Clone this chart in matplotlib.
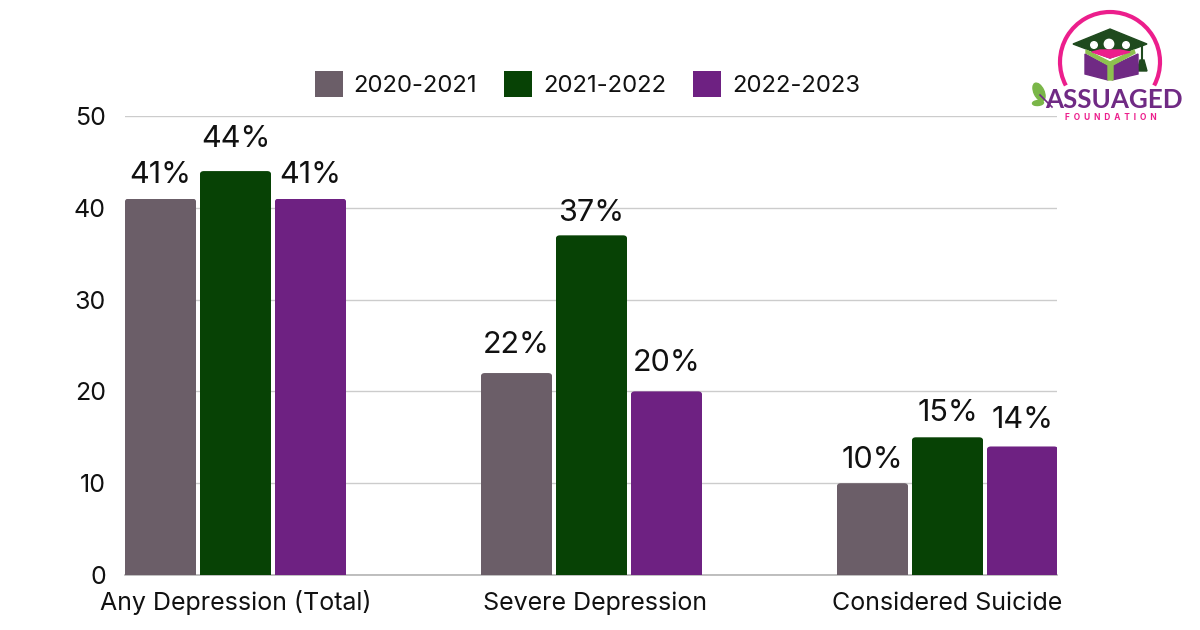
import matplotlib
matplotlib.use("Agg")
import matplotlib.pyplot as plt
import numpy as np
from matplotlib.patches import FancyBboxPatch, Polygon, Arc, Circle, Ellipse
from matplotlib.transforms import ScaledTranslation

plt.rcParams['font.family'] = ['Inter', 'DejaVu Sans']

categories = ["Any Depression (Total)", "Severe Depression", "Considered Suicide"]
series_names = ["2020-2021", "2021-2022", "2022-2023"]
v2020 = [41, 22, 10]
v2021 = [44, 37, 15]
v2022 = [41, 20, 14]
colors = ["#6B5E68", "#074205", "#6E2182"]
yticks = [0, 10, 20, 30, 40, 50]
# label offset above each bar top (pixels), per series
label_gap = [[24, 28, 23], [32, 22, 24], [24, 28, 26]]

W, H = 1200, 630
fig = plt.figure(figsize=(W/100, H/100), dpi=100, facecolor="white")
L, R, T, B = 125, 1057, 116, 575
ax = fig.add_axes([L/W, 1-B/H, (R-L)/W, (B-T)/H])

pitch = 356.0
bw = 71.5/pitch
step = 75/pitch
ax.set_xlim((L-235.5)/pitch, 2+(R-947.5)/pitch)
ax.set_ylim(0, 50)
x = np.arange(len(categories))
xpx = (R-L)/(ax.get_xlim()[1]-ax.get_xlim()[0])
ypx = (B-T)/50
handles = []
for i, (vals, c, n) in enumerate(zip([v2020, v2021, v2022], colors, series_names)):
    bars = ax.bar(x+(i-1)*step, vals, bw, color=c, label=n, zorder=3)
    for b, v, g in zip(bars, vals, label_gap[i]):
        clip = FancyBboxPatch((b.get_x(), -5), b.get_width(), b.get_height()+5,
                              boxstyle=f"round,pad=0,rounding_size={4/xpx}",
                              mutation_aspect=xpx/ypx, transform=ax.transData)
        b.set_clip_path(clip)
        ax.annotate(f"{v}%", xy=(b.get_x()+b.get_width()/2, v), xytext=(0, g*0.72),
                    textcoords="offset points", ha='center', va='center', fontsize=22,
                    color="#111111", zorder=4, annotation_clip=False)
    handles.append(bars)

ax.set_yticks(yticks)
ax.set_xticks(x, categories)
ax.tick_params(axis='both', length=0, labelsize=18, labelcolor="#111111")
ax.tick_params(axis='y', pad=13.7)
ax.tick_params(axis='x', pad=25)
for lab, dx in zip(ax.get_xticklabels(), [0.5, 3.5, 0]):
    lab.set_va('baseline')
    lab.set_transform(lab.get_transform() + ScaledTranslation(dx/100, 0, fig.dpi_scale_trans))
ax.grid(axis='y', color="#CCCCCC", linewidth=1, zorder=0)
ax.set_axisbelow(True)
for s in ['top', 'right', 'left']:
    ax.spines[s].set_visible(False)
ax.spines['bottom'].set_color("#B4B4B4")
ax.spines['bottom'].set_linewidth(1.2)

leg = fig.legend(handles=[h[0] for h in handles], labels=series_names, ncol=3, frameon=False,
                 loc='center', bbox_to_anchor=(587.5/W, 1-84/H), fontsize=17.2,
                 handlelength=1.17, handleheight=1.34, handletextpad=0.46, columnspacing=1.13,
                 labelcolor="#111111")

# Logo overlay, drawn in pixel coordinates
lg = fig.add_axes([0, 0, 1, 1], zorder=10)
lg.set_xlim(0, W); lg.set_ylim(H, 0); lg.axis('off'); lg.patch.set_alpha(0)
pink, green, lime, purple = "#EC1E8C", "#1F4A1E", "#8DC04F", "#702A84"
lg.add_patch(Arc((1110, 62), 100, 100, theta1=152, theta2=28, color=pink, lw=3))
lg.add_patch(Polygon([(1073, 44), (1110, 29), (1147, 44), (1110, 58)], color=green))
for cx, cy, r in [(1094, 45, 3.3), (1109, 44, 4.7), (1126, 45, 3.3)]:
    lg.add_patch(Circle((cx, cy), r, color="white", zorder=3))
lg.add_patch(Polygon([(1092, 52), (1100, 50), (1120, 50), (1130, 52), (1110, 58)], color=pink, zorder=3))
lg.add_patch(Polygon([(1085, 54), (1108, 66), (1108, 80), (1085, 74)], color=purple, zorder=2))
lg.add_patch(Polygon([(1112, 66), (1138, 54), (1138, 74), (1112, 80)], color=purple, zorder=2))
lg.add_patch(Polygon([(1086, 50), (1110, 62), (1134, 50), (1135, 53), (1113, 65), (1113, 80),
                      (1108, 80), (1108, 65), (1086, 53)], color=lime, zorder=2))
lg.plot([1142, 1142], [46, 60], color=green, lw=1.5)
lg.add_patch(Polygon([(1140, 60), (1144, 60), (1147, 71), (1137, 71)], color=green))
lg.add_patch(Ellipse((1039, 92), 10, 19, angle=-25, color="#7AB648"))
lg.add_patch(Ellipse((1038, 103), 11, 5, angle=-5, color="#7AB648"))
lg.plot([1040, 1046, 1052], [95, 101, 107], color=purple, lw=1.2)
lg.text(1113.5, 100.5, "ASSUAGED", ha='center', va='center', fontsize=18.7, fontweight='bold',
        color=purple, family=['Lato', 'DejaVu Sans'])
lg.text(1110.5, 117, "F  O  U  N  D  A  T  I  O  N", ha='center', va='center', fontsize=5.95,
        fontweight='bold', color=pink)

fig.savefig("out.png", dpi=100, facecolor="white")
